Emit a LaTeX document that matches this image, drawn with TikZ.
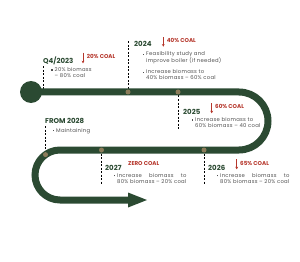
\documentclass[tikz,border=0pt]{standalone}
\usepackage{fontspec}
\setmainfont{Poppins}
\usetikzlibrary{arrows.meta}
\definecolor{roadc}{HTML}{2B4A32}
\definecolor{dotc}{HTML}{8C7C5A}
\definecolor{redc}{HTML}{B5362B}
\definecolor{txtc}{HTML}{505050}
\tikzset{
  road/.style={draw=roadc, line width=7pt},
  milestone/.style={circle, fill=dotc, inner sep=0pt, minimum size=5pt},
  leader/.style={draw=black, line width=0.9pt, dash pattern=on 2pt off 1.5pt},
  yearlbl/.style={anchor=base west, inner sep=0pt, text=roadc, font=\fontsize{7}{8}\selectfont\bfseries},
  coallbl/.style={anchor=base west, inner sep=0pt, text=redc, font=\fontsize{5.6}{6}\selectfont\bfseries},
  coalarrow/.style={draw=redc, line width=0.7pt, -{Stealth[length=2.6pt,width=2.8pt]}},
  bodytxt/.style={anchor=base west, inner sep=0pt, text=txtc, font=\fontsize{5.3}{6}\selectfont\addfontfeature{LetterSpace=5}},
}
\newcommand\bul{\rule[1pt]{1.3pt}{1.3pt}}
\newcommand\twol[2]{\begin{tabular}[t]{@{}l@{\hspace{2.2pt}}l@{}}\bul & #1\\ & #2\end{tabular}}
\newcommand\onel[1]{\begin{tabular}[t]{@{}l@{\hspace{2.2pt}}l@{}}\bul & #1\end{tabular}}
\newcommand\justpair[2]{\begin{tabular}[t]{@{}l@{\hspace{2.2pt}}l@{}}\bul & \setbox0\hbox{#2}\hbox to\wd0{#1}\\ & #2\end{tabular}}
\begin{document}
\begin{tikzpicture}[x=1pt,y=-1pt]
\useasboundingbox (0,0) rectangle (300,262);
% milestone coordinates
\coordinate (q4top) at (43,66.5);
\coordinate (q4bot) at (43,90);
\coordinate (t24) at (128,41.5);
\coordinate (b25) at (178,128.5);
\coordinate (b26) at (204,185);
\coordinate (b27) at (101.5,183.5);
\coordinate (t28) at (45.5,126);
\node[milestone] (m2024) at (128,92) {};
\node[milestone] (m2025) at (178,92) {};
\node[milestone] (m2026) at (204,150) {};
\node[milestone] (m2027) at (101.5,150) {};
\node[milestone] (m2028) at (45.5,154.6) {};
% leaders
\draw[leader] (q4top) -- (q4bot);
\draw[leader] (t24) -- (m2024.center);
\draw[leader] (m2025.center) -- (b25);
\draw[leader] (m2026.center) -- (b26);
\draw[leader] (m2027.center) -- (b27);
\draw[leader] (t28) -- (m2028.center);
% road
\node[circle, fill=roadc, minimum size=22pt, inner sep=0pt] (start) at (31,92) {};
\coordinate (shaftend) at (128,200);
\coordinate (tip) at (147,200);
\draw[road] (start.center) -- (239,92)
  .. controls (255,92) and (268,105) .. (268,121)
  .. controls (268,137) and (255,150) .. (239,150) -- (60,150)
  .. controls (46.2,150) and (35,161.2) .. (35,175)
  .. controls (35,188.8) and (46.2,200) .. (60,200) -- (shaftend);
\fill[roadc] (128,192.5) -- (tip) -- (128,207.5) -- cycle;
% dots on top
\foreach \m in {m2024,m2025,m2026,m2027,m2028} \fill[dotc] (\m) circle (2.5pt);
% headings
\node[yearlbl] (hq4) at (43,63.3) {Q4/2023};
\node[yearlbl] (h24) at (134,47) {2024};
\node[yearlbl] (h25) at (183,114) {2025};
\node[yearlbl] (h26) at (208,170.7) {2026};
\node[yearlbl] (h27) at (105,170) {2027};
\node[yearlbl] (h28) at (45,124) {FROM 2028};
% coal labels
\node[coallbl] (c23) at (86.7,59) {20\% COAL};
\coordinate (a23s) at (83,52.7); \coordinate (a23e) at (83,63.3);
\draw[coalarrow] (a23s) -- (a23e);
\node[coallbl] (c24) at (166.7,42.5) {40\% COAL};
\coordinate (a24s) at (163.3,37.3); \coordinate (a24e) at (163.3,46.7);
\draw[coalarrow] (a24s) -- (a24e);
\node[coallbl] (c25) at (215,109) {60\% COAL};
\coordinate (a25s) at (211.7,103.3); \coordinate (a25e) at (211.7,113.3);
\draw[coalarrow] (a25s) -- (a25e);
\node[coallbl] (c26) at (240,165) {65\% COAL};
\coordinate (a26s) at (236.7,159); \coordinate (a26e) at (236.7,169.3);
\draw[coalarrow] (a26s) -- (a26e);
\node[coallbl] (c27) at (128,165.7) {ZERO COAL};
% body text
\node[bodytxt] (tq4) at (51,71.7) {\twol{20\% biomass}{-- 80\% coal}};
\node[bodytxt] (t24a) at (142.5,56) {\twol{Feasibility study and}{improve boiler (if needed)}};
\node[bodytxt] (t24b) at (142.5,74) {\twol{Increase biomass to}{40\% biomass -- 60\% coal}};
\node[bodytxt] (t25) at (191.5,121.7) {\twol{Increase biomass to}{60\% biomass -- 40 coal}};
\node[bodytxt] (t26) at (216.5,177.3) {\justpair{Increase\hfill biomass\hfill to}{80\% biomass -- 20\% coal}};
\node[bodytxt] (t27) at (113.5,177.3) {\justpair{Increase\hfill biomass\hfill to}{80\% biomass -- 20\% coal}};
\node[bodytxt] (t28) at (52.5,132) {\onel{Maintaining}};
\end{tikzpicture}
\end{document}
